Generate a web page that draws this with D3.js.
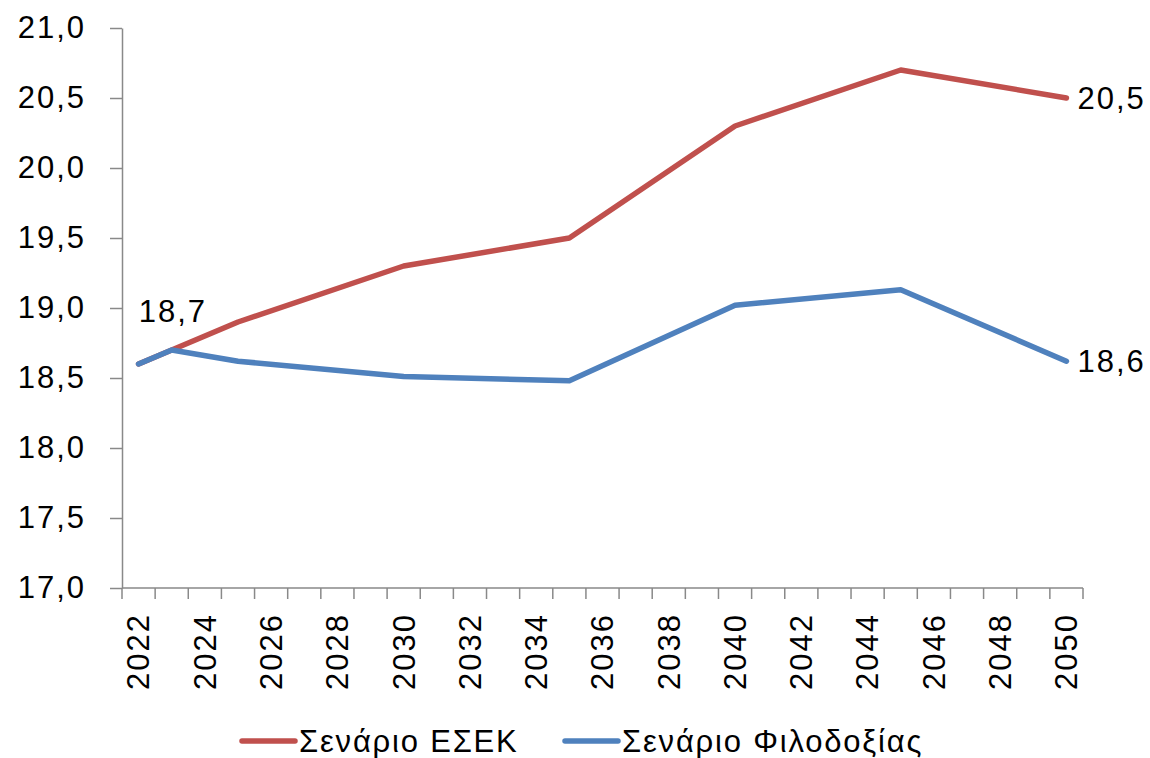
<!DOCTYPE html>
<html><head><meta charset="utf-8">
<script src="https://cdn.jsdelivr.net/npm/d3@7"></script>
<style>body{margin:0;background:#fff}</style>
</head><body>
<svg id="c" width="1150" height="758"></svg>
<script>
const years = d3.range(2022, 2051);
const yTicks = [17, 17.5, 18, 18.5, 19, 19.5, 20, 20.5, 21];
const xLabelYears = [2022,2024,2026,2028,2030,2032,2034,2036,2038,2040,2042,2044,2046,2048,2050];
const pointYears = [2022, 2023, 2025, 2030, 2035, 2040, 2045, 2050];
const esekValues = [18.6, 18.7, 18.9, 19.3, 19.5, 20.3, 20.7, 20.5];
const filoValues = [18.6, 18.7, 18.62, 18.51, 18.48, 19.02, 19.13, 18.62];
const seriesNames = ["Σενάριο ΕΣΕΚ", "Σενάριο Φιλοδοξίας"];
const seriesColors = ["#C0504D", "#4F81BD"];

const fmt = v => d3.format(".1f")(v).replace(".", ",");
const svg = d3.select("#c");
const font = "'Liberation Sans', Arial, sans-serif";
const pL = 122, pR = 1083, pT = 28, pB = 588;

const x = d3.scaleBand().domain(years).range([pL, pR]).padding(0);
const px = yr => x(yr) + x.bandwidth() / 2;
const y = d3.scaleLinear().domain([17, 21]).range([pB, pT]);

// Y axis
const yAxis = svg.append("g").attr("transform", `translate(${pL},0)`)
  .call(d3.axisLeft(y).tickValues(yTicks).tickSize(12).tickSizeOuter(0).tickFormat(fmt).tickPadding(24));
yAxis.select(".domain").attr("stroke", "#898989").attr("stroke-width", 1.5);
yAxis.selectAll(".tick line").attr("stroke", "#898989").attr("stroke-width", 1.5);
yAxis.selectAll(".tick text").attr("font-family", font).attr("font-size", 31)
  .attr("letter-spacing", 2).attr("fill", "#000");

// X axis: ticks between categories
const xg = svg.append("g");
xg.append("line").attr("x1", pL).attr("x2", pR).attr("y1", pB).attr("y2", pB)
  .attr("stroke", "#898989").attr("stroke-width", 1.5);
const edges = years.map(v => x(v)).concat([pR]);
xg.selectAll("line.t").data(edges).join("line").attr("class", "t")
  .attr("x1", d => d).attr("x2", d => d).attr("y1", pB).attr("y2", pB + 11)
  .attr("stroke", "#898989").attr("stroke-width", 1.5);
xg.selectAll("text").data(xLabelYears).join("text")
  .attr("transform", d => `translate(${px(d)},613) rotate(-90)`)
  .attr("text-anchor", "end").attr("dy", "0.35em")
  .attr("font-family", font).attr("font-size", 31).attr("letter-spacing", 2)
  .text(d => d);

// Lines
const line = d3.line().x(d => px(d[0])).y(d => y(d[1]));
[esekValues, filoValues].forEach((vals, i) => {
  svg.append("path").datum(pointYears.map((yr, j) => [yr, vals[j]]))
    .attr("d", line).attr("fill", "none").attr("stroke", seriesColors[i])
    .attr("stroke-width", 5.5).attr("stroke-linecap", "round").attr("stroke-linejoin", "round");
});

// Data labels
const lab = (tx, ty, t) => svg.append("text").attr("x", tx).attr("y", ty)
  .attr("font-family", font).attr("font-size", 31).attr("letter-spacing", 2).text(t);
lab(px(2023) - 33, y(esekValues[1]) - 28, fmt(esekValues[1]));
lab(px(2050) + 11, y(esekValues[7]) + 11, fmt(esekValues[7]));
lab(px(2050) + 11, y(filoValues[7]) + 11, fmt(filoValues[7]));

// Legend
const lg = svg.append("g");
const legX = [240, 563];
seriesNames.forEach((n, i) => {
  lg.append("line").attr("x1", legX[i] + 2).attr("x2", legX[i] + 55).attr("y1", 741).attr("y2", 741)
    .attr("stroke", seriesColors[i]).attr("stroke-width", 5.5).attr("stroke-linecap", "round");
  lg.append("text").attr("x", legX[i] + 59).attr("y", 741).attr("dy", "0.35em")
    .attr("font-family", font).attr("font-size", 31).attr("letter-spacing", 1.8).text(n);
});
</script>
</body></html>
